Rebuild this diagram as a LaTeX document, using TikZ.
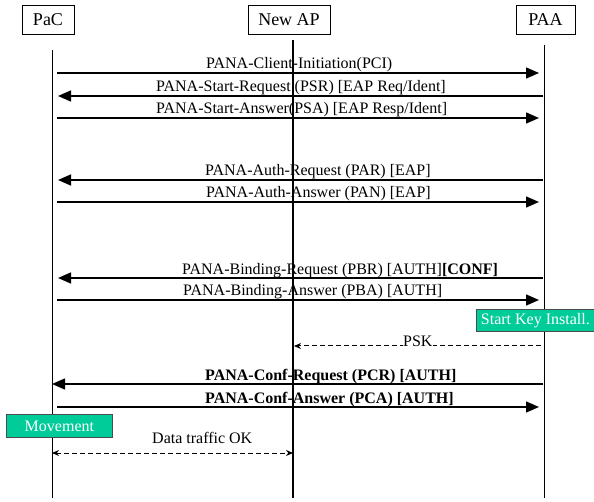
\documentclass[tikz,border=0pt]{standalone}
\usepackage{fontspec}
\setmainfont{Liberation Serif}
\usetikzlibrary{arrows.meta}
\definecolor{boxgreen}{RGB}{0,204,153}
\tikzset{
  actor/.style={draw, line width=0.8pt, minimum height=29pt, inner sep=0pt, font=\fontsize{18}{18}\selectfont},
  life/.style={line width=0.9pt},
  msg/.style={line width=1.5pt, -{Triangle[length=13pt,width=11pt]}},
  dmsg/.style={line width=1pt, dashed, dash pattern=on 5pt off 3pt, -{Stealth[length=7pt,width=6pt]}},
  lbl/.style={anchor=base west, inner sep=0pt, font=\fontsize{16}{16}\selectfont},
  blbl/.style={lbl, font=\fontsize{16}{16}\selectfont\bfseries},
  note/.style={draw=black!70, line width=0.8pt, fill=boxgreen, text=white, inner sep=0pt, anchor=north west, font=\fontsize{16}{16}\selectfont}
}
\begin{document}
\begin{tikzpicture}[x=1pt,y=-1pt]
\useasboundingbox (0,0) rectangle (594,502);
% actors
\node[actor, minimum width=52pt] (pac) at (48,19.5) {PaC};
\node[actor, minimum width=82pt] (ap) at (289,19.5) {New AP};
\node[actor, minimum width=59pt] (paa) at (545.5,19.5) {PAA};
% lifelines
\coordinate (pacT) at (52,50); \coordinate (pacB) at (52,498);
\coordinate (apT) at (293,40); \coordinate (apB) at (293,498);
\coordinate (paaT) at (544,45); \coordinate (paaB) at (544,498);
\draw[life] (pacT) -- (pacB);
\draw[life, line width=1.3pt] (apT) -- (apB);
\draw[life] (paaT) -- (paaB);
% message end points
\foreach \n/\y in {1/73,2/96,3/118,4/180,5/202,6/278,7/300,9/384,10/407}{
  \coordinate (L\n) at (58,\y);
  \coordinate (R\n) at (539,\y);
  \coordinate (LL\n) at (57,\y);
  \coordinate (RR\n) at (543,\y);
}
\coordinate (L9) at (52,384);
\coordinate (psk1) at (541,346); \coordinate (psk2) at (294,346);
\coordinate (dt1) at (52,453); \coordinate (dt2) at (293,453);
% messages
\draw[msg] (LL1) -- (R1);
\node[lbl] (t1) at (206,69) {PANA-Client-Initiation(PCI)};
\draw[msg] (RR2) -- (L2);
\node[lbl] (t2) at (156,92) {PANA-Start-Request (PSR) [EAP Req/Ident]};
\draw[msg] (LL3) -- (R3);
\node[lbl] (t3) at (156,114) {PANA-Start-Answer(PSA) [EAP Resp/Ident]};
\draw[msg] (RR4) -- (L4);
\node[lbl] (t4) at (205,176) {PANA-Auth-Request (PAR) [EAP]};
\draw[msg] (LL5) -- (R5);
\node[lbl] (t5) at (206,198) {PANA-Auth-Answer (PAN) [EAP]};
\draw[msg] (RR6) -- (L6);
\node[lbl] (t6) at (182,275) {PANA-Binding-Request (PBR) [AUTH]\textbf{[CONF]}};
\draw[msg] (LL7) -- (R7);
\node[lbl] (t7) at (183,296) {PANA-Binding-Answer (PBA) [AUTH]};
\node[note, minimum width=118pt, minimum height=22pt] (ski) at (476,309) {Start Key Install.};
\draw[dmsg] (psk1) -- (psk2);
\node[lbl, fill=white, inner xsep=0pt] (t8) at (403,346) {PSK};
\draw[msg] (RR9) -- (L9);
\node[blbl] (t9) at (205,380.5) {PANA-Conf-Request (PCR) [AUTH]};
\draw[msg] (LL10) -- (R10);
\node[blbl] (t10) at (205,403) {PANA-Conf-Answer (PCA) [AUTH]};
\node[note, minimum width=106pt, minimum height=23pt] (mov) at (6,414) {Movement};
\node[lbl] (t11) at (152,443) {Data traffic OK};
\draw[dmsg, {Stealth[length=7pt,width=6pt]}-{Stealth[length=7pt,width=6pt]}] (dt1) -- (dt2);
\end{tikzpicture}
\end{document}
